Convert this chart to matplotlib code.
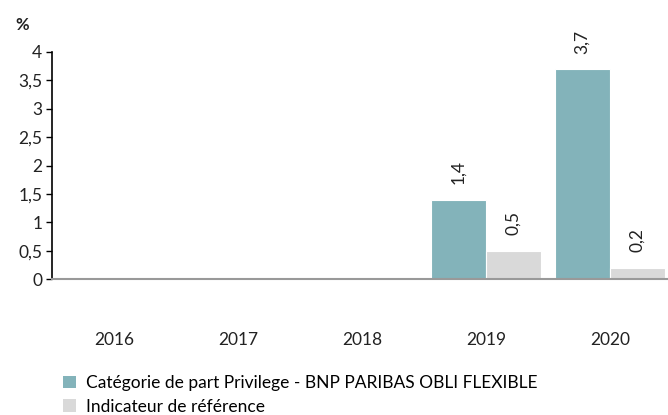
import matplotlib
matplotlib.use("Agg")
import matplotlib.pyplot as plt
from matplotlib.patches import Patch
import numpy as np

years = ["2016", "2017", "2018", "2019", "2020"]
fund = [None, None, None, 1.4, 3.7]
bench = [None, None, None, 0.5, 0.2]
series_names = ["Catégorie de part Privilege - BNP PARIBAS OBLI FLEXIBLE", "Indicateur de référence"]
yticks = [0, 0.5, 1, 1.5, 2, 2.5, 3, 3.5, 4]
ytick_labels = ["0", "0,5", "1", "1,5", "2", "2,5", "3", "3,5", "4"]

c_fund = "#83B3BA"
c_bench = "#D9D9D9"

plt.rcParams['font.family'] = ['Lato', 'DejaVu Sans']
fs = 12.5

fig = plt.figure(figsize=(6.68, 4.15), dpi=100)
ax = fig.add_axes([52/668, 1-279/415, 620/668, 227/415])

x = np.arange(len(years))
w = 0.445
for i in range(len(years)):
    if fund[i] is not None:
        ax.bar(x[i] - w/2, fund[i], width=w, color=c_fund, edgecolor='white', linewidth=0.8)
        ax.text(x[i] - w/2, fund[i] + 0.27, f"{fund[i]:.1f}".replace('.', ','),
                rotation=90, ha='center', va='bottom', fontsize=fs, color='#222222')
    if bench[i] is not None:
        ax.bar(x[i] + w/2, bench[i], width=w, color=c_bench, edgecolor='white', linewidth=0.8)
        ax.text(x[i] + w/2, bench[i] + 0.27, f"{bench[i]:.1f}".replace('.', ','),
                rotation=90, ha='center', va='bottom', fontsize=fs, color='#222222')

ax.set_xlim(-0.5, len(years) - 0.5)
ax.set_ylim(0, 4)
ax.set_yticks(yticks)
ax.set_yticklabels(ytick_labels, fontsize=fs, color='#222222')
ax.set_xticks(x)
ax.set_xticklabels(years, fontsize=fs, color='#222222')
ax.tick_params(axis='x', length=0, pad=38)
ax.tick_params(axis='y', length=4, width=1, color='black', pad=3)

for s in ['top', 'right']:
    ax.spines[s].set_visible(False)
ax.spines['left'].set_color('black')
ax.spines['left'].set_linewidth(1.2)
ax.spines['bottom'].set_color('#999999')
ax.spines['bottom'].set_linewidth(1.5)

fig.text(22/668, 1-25/415, "%", fontsize=12, fontweight='bold', ha='center', va='center', color='#222222')

handles = [Patch(facecolor=c_fund, edgecolor='none'), Patch(facecolor=c_bench, edgecolor='none')]
fig.legend(handles, series_names, loc='upper left', bbox_to_anchor=(63/668, 1-375/415),
           frameon=False, fontsize=fs, handlelength=0.75, handleheight=0.75,
           handletextpad=0.6, labelspacing=0.45, borderpad=0, borderaxespad=0)

fig.savefig("out.png", dpi=100)
